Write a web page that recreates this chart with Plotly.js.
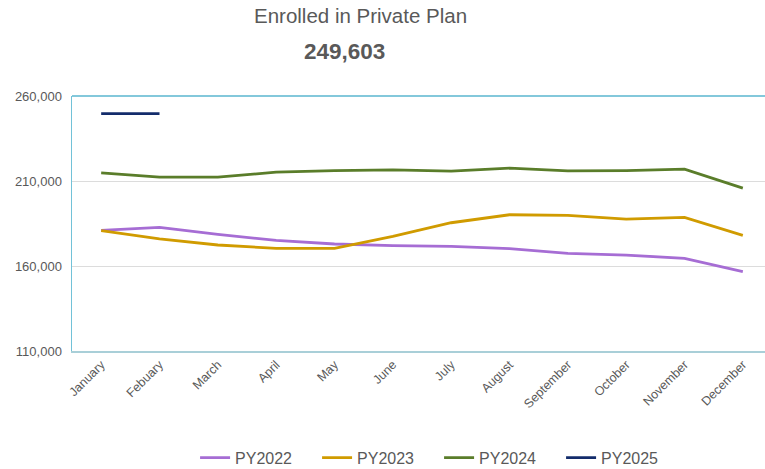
<!DOCTYPE html>
<html>
<head>
<meta charset="utf-8">
<script src="https://cdn.plot.ly/plotly-3.0.1.min.js"></script>
<style>html,body{margin:0;padding:0;background:#fff;}#chart{width:765px;height:469px;}</style>
</head>
<body>
<div id="chart"></div>
<script>
const months = ["January","Febuary","March","April","May","June","July","August","September","October","November","December"];
const py2022 = [180950,182700,178600,175050,172950,171950,171550,170200,167400,166450,164500,156700];
const py2023 = [180750,175900,172350,170400,170400,177400,185450,190150,189750,187600,188550,178000];
const py2024 = [214800,212300,212300,215200,216150,216560,215800,217550,216000,216150,216950,205800];
const py2025 = [249603,249603];
const yTicks = [110000,160000,210000,260000];
const yTickText = ["110,000","160,000","210,000","260,000"];
const titleText = "Enrolled in Private Plan";
const headline = "249,603";

const series = [
  {name:"PY2022", y:py2022, color:"#a66dd4"},
  {name:"PY2023", y:py2023, color:"#d09b00"},
  {name:"PY2024", y:py2024, color:"#5a7d2a"},
  {name:"PY2025", y:py2025, color:"#132c6b"}
];
const traces = series.map(s => ({
  type:"scatter", mode:"lines", name:s.name,
  x: months.slice(0, s.y.length), y: s.y,
  line:{color:s.color, width:2.8}, hoverinfo:"skip"
}));

const layout = {
  width:765, height:469,
  margin:{l:72, r:0, t:96, b:118, autoexpand:false},
  paper_bgcolor:"#fff", plot_bgcolor:"#fff",
  font:{family:"Liberation Sans, Arial, sans-serif", color:"#595959"},
  showlegend:true,
  legend:{orientation:"h", xref:"container", yref:"container", x:0.255, xanchor:"left", y:0.024, yanchor:"middle",
          font:{size:16, color:"#595959"}, itemwidth:30, tracegroupgap:0,
          entrywidth:77, entrywidthmode:"pixels"},
  xaxis:{type:"category", categoryorder:"array", categoryarray:months,
         range:[-0.5, 11.38], tickangle:-45, tickfont:{size:12.5, color:"#595959"},
         showgrid:false, zeroline:false, showline:true, linecolor:"#a9cfd8", linewidth:1.5,
         ticks:"", fixedrange:true, automargin:false},
  yaxis:{range:[110000,260000], tickvals:yTicks, ticktext:yTickText,
         tickfont:{size:13, color:"#595959"}, showgrid:true, gridcolor:"#dcdcdc", gridwidth:1,
         zeroline:false, showline:true, linecolor:"#72c2d8", linewidth:1.5, ticks:"",
         ticklabelstandoff:6, fixedrange:true, automargin:false},
  shapes:[{type:"line", xref:"paper", yref:"paper", x0:0, x1:1, y0:1, y1:1,
           line:{color:"#5ab6cf", width:1.5}}],
  annotations:[
    {text:titleText, xref:"paper", yref:"paper", x:0.417, y:1.314, xanchor:"center", yanchor:"middle",
     showarrow:false, font:{size:20.5, color:"#595959"}},
    {text:"<b>"+headline+"</b>", xref:"paper", yref:"paper", x:0.393, y:1.173, xanchor:"center", yanchor:"middle",
     showarrow:false, font:{size:22.5, color:"#595959"}}
  ]
};
Plotly.newPlot("chart", traces, layout, {displayModeBar:false, staticPlot:true});
</script>
</body>
</html>
